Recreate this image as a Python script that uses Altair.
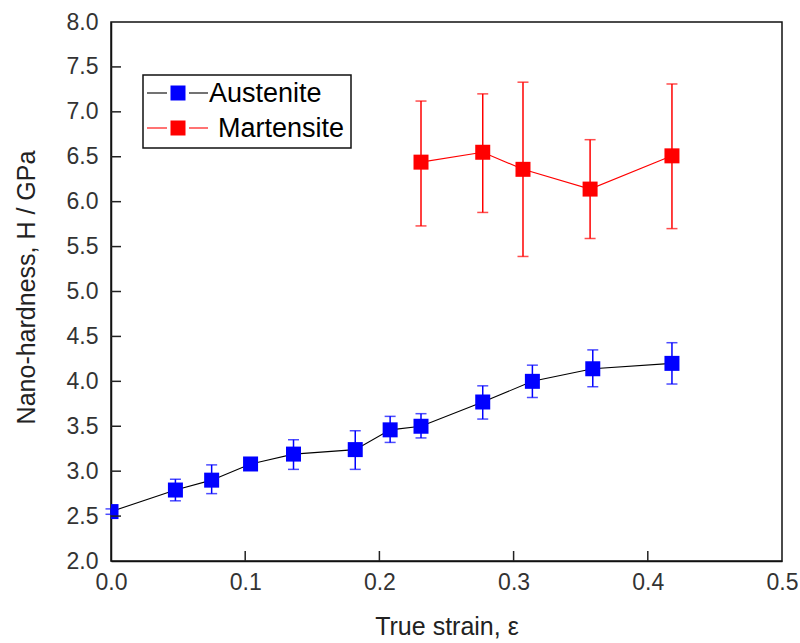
import altair as alt
import pandas as pd

# ---- data ----
series = ["Austenite", "Martensite"]
point_colors = ["#0000FF", "#FF0000"]
line_colors = ["#000000", "#FF0000"]

aus_x = [0.0, 0.048, 0.075, 0.104, 0.136, 0.182, 0.208, 0.231, 0.277, 0.314, 0.359, 0.418]
aus_y = [2.55, 2.79, 2.90, 3.08, 3.19, 3.24, 3.46, 3.50, 3.77, 4.00, 4.14, 4.20]
aus_lo = [2.52, 2.67, 2.75, 3.05, 3.02, 3.02, 3.32, 3.37, 3.58, 3.82, 3.94, 3.97]
aus_hi = [2.58, 2.91, 3.07, 3.11, 3.35, 3.45, 3.61, 3.64, 3.95, 4.18, 4.35, 4.43]

mar_x = [0.231, 0.277, 0.307, 0.357, 0.418]
mar_y = [6.44, 6.55, 6.36, 6.14, 6.51]
mar_lo = [5.73, 5.88, 5.39, 5.59, 5.70]
mar_hi = [7.12, 7.20, 7.33, 6.69, 7.31]

x_label_values = [0.0, 0.1, 0.2, 0.3, 0.4, 0.5]
y_label_values = [2.0, 2.5, 3.0, 3.5, 4.0, 4.5, 5.0, 5.5, 6.0, 6.5, 7.0, 7.5, 8.0]
x_inner_ticks = [0.1, 0.2, 0.3, 0.4]
y_inner_ticks = [2.5, 3.0, 3.5, 4.0, 4.5, 5.0, 5.5, 6.0, 6.5, 7.0, 7.5]

df = pd.concat([
    pd.DataFrame({"x": aus_x, "y": aus_y, "lo": aus_lo, "hi": aus_hi, "series": series[0]}),
    pd.DataFrame({"x": mar_x, "y": mar_y, "lo": mar_lo, "hi": mar_hi, "series": series[1]}),
], ignore_index=True)

W, H = 671, 539
FONT = "Liberation Sans"

xs = alt.Scale(domain=[0, 0.5], nice=False, zero=False)
ys = alt.Scale(domain=[2, 8], nice=False, zero=False)

X = alt.X("x:Q", scale=xs, axis=alt.Axis(
    values=x_label_values, format=".1f", title="True strain, ε", ticks=False, grid=False,
    labelFlush=False, labelPadding=10, titleX=W / 2, titleY=73, titleBaseline="alphabetic",
    titleAlign="center"))
Y = alt.Y("y:Q", scale=ys, axis=alt.Axis(
    values=y_label_values, format=".1f", title="Nano-hardness, H / GPa", ticks=False, grid=False,
    labelFlush=False, labelPadding=13, titleX=-77, titleY=265, titleBaseline="alphabetic",
    titleAngle=-90, titleAlign="center"))

color = alt.Color("series:N", scale=alt.Scale(domain=series, range=point_colors), legend=None)
stroke = alt.Stroke("series:N", scale=alt.Scale(domain=series, range=line_colors), legend=None)

base = alt.Chart(df)

lines = base.mark_line(strokeWidth=1.1).encode(x=X, y=Y, stroke=stroke, detail="series:N")
err = base.mark_rule(strokeWidth=1.5).encode(
    x=alt.X("x:Q", scale=xs), y=alt.Y("lo:Q", scale=ys), y2="hi:Q", color=color)
cap_lo = base.mark_tick(orient="horizontal", size=11, thickness=1.5).encode(
    x=alt.X("x:Q", scale=xs), y=alt.Y("lo:Q", scale=ys), color=color)
cap_hi = base.mark_tick(orient="horizontal", size=11, thickness=1.5).encode(
    x=alt.X("x:Q", scale=xs), y=alt.Y("hi:Q", scale=ys), color=color)
pts = base.mark_square(size=225, opacity=1, clip=True).encode(
    x=alt.X("x:Q", scale=xs), y=alt.Y("y:Q", scale=ys), color=color)

# inward ticks
xt = alt.Chart(pd.DataFrame({"t": x_inner_ticks})).mark_rule(color="#222", strokeWidth=1.5).encode(
    x=alt.X("t:Q", scale=xs), y=alt.value(H), y2=alt.value(H - 10))
yt = alt.Chart(pd.DataFrame({"t": y_inner_ticks})).mark_rule(color="#222", strokeWidth=1.5).encode(
    y=alt.Y("t:Q", scale=ys), x=alt.value(0), x2=alt.value(10))

# legend
legend_layers = [
    alt.Chart(pd.DataFrame({"series": series[:1]})).mark_rect(
        fill="white", stroke="#111", strokeWidth=1.5).encode(
        x=alt.value(32), x2=alt.value(240), y=alt.value(53), y2=alt.value(126))
]
row_y = [71, 106]
text_x = [98, 107]
for i, name in enumerate(series):
    ld = pd.DataFrame({"series": [name]})
    c = alt.Chart(ld)
    legend_layers += [
        c.mark_rule(color=line_colors[i], strokeWidth=1.1).encode(
            x=alt.value(36), x2=alt.value(56), y=alt.value(row_y[i])),
        c.mark_rule(color=line_colors[i], strokeWidth=1.1).encode(
            x=alt.value(78), x2=alt.value(97), y=alt.value(row_y[i])),
        c.mark_square(size=225, opacity=1, color=point_colors[i]).encode(
            x=alt.value(67), y=alt.value(row_y[i])),
        c.mark_text(align="left", baseline="middle", fontSize=27, font=FONT, color="#000").encode(
            x=alt.value(text_x[i]), y=alt.value(row_y[i] + 1), text="series:N"),
    ]

chart = alt.layer(lines, err, cap_lo, cap_hi, pts, xt, yt, *legend_layers).properties(
    width=W, height=H,
    autosize=alt.AutoSizeParams(type="none"),
    padding={"left": 111, "top": 22, "right": 18, "bottom": 82},
    background="white",
).configure_view(
    stroke="#111", strokeWidth=1.5
).configure_axis(
    domainColor="#111", domainWidth=1.5,
    labelFont=FONT, labelFontSize=23, labelColor="#333",
    titleFont=FONT, titleFontSize=25, titleColor="#222", titleFontWeight="normal",
)

chart.save("out.html", embed_options={"renderer": "svg", "actions": False})
